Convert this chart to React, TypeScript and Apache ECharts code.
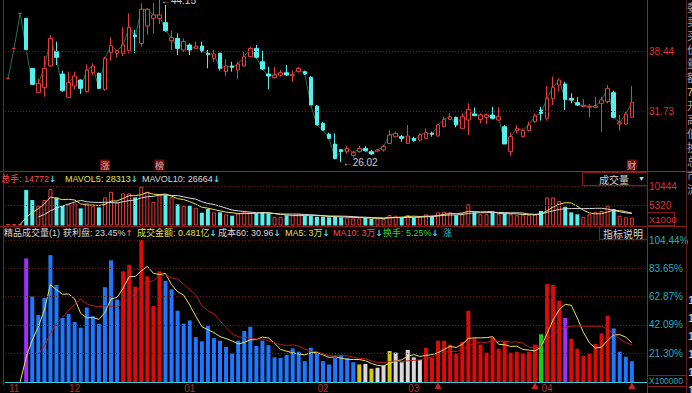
import React, { useEffect, useRef } from "react";
import * as echarts from "echarts";

// ---------------- data ----------------
const opens = [35.39,38.74,42.66,42.10,36.51,33.79,34.38,36.77,38.37,35.87,
 33.27,34.53,35.20,33.90,36.02,35.95,34.16,38.30,38.19,38.19,
 38.48,40.24,39.30,41.24,42.10,42.10,41.62,39.60,39.86,38.56,
 39.12,38.74,39.01,38.19,37.63,38.19,36.14,36.77,36.32,36.77,
 37.81,38.74,37.25,35.87,35.46,35.76,36.02,35.69,36.14,36.14,
 35.50,32.30,30.36,29.16,28.05,27.41,27.19,26.78,27.19,27.56,
 27.19,27.26,27.38,28.12,28.87,28.87,28.12,28.68,28.49,28.68,
 29.24,28.94,29.98,30.80,31.03,29.80,30.73,31.40,30.80,31.03,
 31.29,30.73,29.98,27.19,29.54,28.87,29.54,30.54,31.85,30.92,
 33.15,34.64,34.76,33.15,32.67,32.22,32.15,32.15,32.59,32.78,
 33.79,30.28,30.28,31.03];
const closes = [35.39,38.74,42.66,38.63,34.72,34.83,36.51,39.86,37.74,34.01,
 34.91,35.65,34.27,36.32,36.77,34.27,37.63,39.04,38.48,39.12,
 41.09,40.05,43.11,43.11,42.47,42.47,40.72,39.94,38.74,39.49,
 38.56,39.01,38.48,38.07,38.11,36.51,36.77,36.62,36.99,37.81,
 38.74,37.74,36.43,35.65,35.76,36.02,35.76,35.80,36.51,35.87,
 32.41,30.17,29.61,28.68,26.44,27.19,27.56,27.08,27.56,27.30,
 26.93,27.38,27.75,29.05,29.24,28.68,28.94,28.42,29.05,29.31,
 29.13,30.17,30.80,31.10,30.17,31.10,31.92,31.21,31.29,31.29,
 30.92,31.10,28.05,28.87,29.80,29.54,30.17,31.18,31.48,33.15,
 34.38,35.20,33.04,32.97,32.41,32.37,32.26,32.30,32.97,34.27,
 31.03,30.43,31.40,32.67];
const lows = [35.39,38.74,42.66,38.63,34.64,33.79,33.34,36.69,36.88,33.90,
 33.27,34.16,33.64,33.79,35.76,34.16,34.01,37.37,37.74,37.89,
 38.19,38.19,38.93,40.24,40.42,41.47,40.61,38.56,38.00,38.37,
 38.00,38.63,38.26,36.51,37.25,36.25,35.65,36.14,35.28,36.69,
 37.74,37.63,36.32,34.16,35.39,35.58,35.65,35.02,36.02,35.76,
 32.41,30.17,29.54,28.57,26.33,26.02,26.93,26.56,27.08,27.19,
 26.82,27.19,27.19,28.05,28.79,28.31,28.05,28.31,28.31,28.57,
 28.87,28.87,29.91,30.73,29.91,29.80,29.05,31.18,30.36,30.28,
 30.80,30.66,28.05,26.70,29.24,28.79,29.43,30.43,30.66,30.66,
 32.41,33.90,31.85,32.59,32.30,32.15,31.03,32.04,29.43,32.59,
 30.92,29.54,30.17,31.03];
const highs = [35.39,38.74,42.66,42.10,36.51,35.32,37.89,40.24,39.49,36.25,
 36.14,36.14,35.28,36.96,37.07,36.02,37.81,39.98,38.56,41.09,
 42.66,40.80,43.78,43.22,43.78,44.15,43.59,40.72,40.42,39.86,
 39.30,39.49,39.49,38.56,38.56,38.26,37.51,37.25,37.25,38.37,
 38.93,39.12,38.48,36.69,36.69,36.32,36.88,36.25,36.69,36.25,
 35.65,32.41,30.54,29.31,29.24,27.45,27.82,27.30,27.86,27.82,
 27.38,27.49,27.93,29.61,29.43,29.05,30.17,28.87,29.24,29.80,
 29.43,30.28,31.10,31.48,31.10,31.48,32.59,32.15,31.48,31.48,
 32.22,32.15,30.17,29.31,30.17,29.80,30.54,31.48,32.22,34.53,
 35.58,35.39,35.02,33.71,33.27,33.04,32.52,33.34,33.34,34.64,
 34.01,31.29,31.66,34.53];
const volumes = [400,400,400,9370,6730,5230,6730,9640,7440,5230,
 5600,5860,4540,5860,5230,4800,7440,8930,6120,8500,
 8500,7440,10240,8930,6280,8050,8050,7440,5600,5230,
 5230,4700,3380,4360,3480,3480,2960,2590,3220,3610,
 3480,3220,3480,3220,2320,2320,2720,2720,2960,2590,
 2590,2320,2320,2160,2320,2160,2160,1900,1900,2060,
 1720,1900,1720,2770,2590,2060,2770,2160,2320,2960,
 2320,3480,3610,3480,2720,3220,5600,3480,2960,2960,
 3480,2960,3220,2960,2720,2720,2720,2960,3830,7440,
 7440,6470,4960,3480,2960,2320,2960,3610,3830,5230,
 4360,2590,2160,2060];
// 精品成交量 indicator values (%)
const jpValues = [0,0,0,90.9,63.0,49.3,61.9,93.3,71.3,47.0,
 50.0,44.1,39.9,54.8,48.4,42.9,69.7,89.5,60.7,81.4,
 86.2,70.1,110,77.7,55.9,81.4,74.4,68.2,52.4,42.9,
 45.3,33.0,29.9,41.3,32.3,30.4,25.9,20.9,30.4,37.5,
 40.6,26.4,30.4,27.1,18.1,17.6,20.0,24.7,22.3,15.3,
 25.2,21.6,15.3,12.9,17.6,20.0,17.6,14.5,12.9,13.3,
 9.8,10.5,12.2,22.8,21.6,14.5,23.6,18.1,16.2,25.2,
 17.6,30.4,30.4,27.5,20.9,29.4,52.4,32.3,27.5,21.6,
 32.8,24.5,30.4,21.6,22.3,20.9,22.3,27.5,35.1,72.0,
 71.3,59.9,47.2,31.8,24.5,19.3,20.9,28.0,35.8,48.8,
 39.4,22.3,18.6,15.3];
// bar type per day: N none, P purple, B blue, R red, Y yellow, W white, G green
const jpTypes =
  "NNNPBBBBBBBBBBBBBBBRRRRRRRBBBBBBBBBBBBBBBBBBBBBBBBBBBBBBBBYWYWWYWWWWWRRRRRRRRRRRRRRRRRRRGRRRPRRRRRRRBBBB";
const priceTicks = ["38.44", "31.73"];
const volTicks = ["10444", "5320"];
const pctTicks = ["104.44", "83.65", "62.87", "42.09", "21.30"];
const monthLabels = ["11", "12", "01", "02", "03", "04"];
const monthStartIdx = [1, 11, 30, 52, 67, 89];
const events = [{ i: 16, t: "涨" }, { i: 25, t: "榜" }, { i: 103, t: "财" }];
const eventPriceLevel = 25.7;
const buySignalIdx = [71, 87, 103];
const highMark = { i: 25, v: 44.15 };
const lowMark = { i: 55, v: 26.02 };
const priceRange = [25.03, 44.15];
const volMax = 10444;
const pctMax = 104.44;
const sideChars = ["委", "卖", "买", "价", "量", "额", "7", "开", "高", "低", "换", "总", "市", "流"];

// ---------------- helpers ----------------
const FONT = '"Liberation Sans", "Noto Sans CJK SC", sans-serif';
const ARROW_FONT = '"DejaVu Sans", sans-serif';
const RED = "#e83c3c";
const CYAN = "#54f0f0";
const EXTRA_SLOTS = 2;
const cats = Array.from({ length: opens.length + EXTRA_SLOTS }, (_, i) => String(i));

function movingAvg(arr: number[], n: number, start: number) {
  return arr.map((_, i) => {
    if (i < start) return "-";
    let s = 0;
    for (let k = i - n + 1; k <= i; k++) s += k >= 0 ? arr[k] : 0;
    return +(s / n).toFixed(2);
  });
}

const TXT: Record<string, string> = {
  r: "#ff4a4a", c: "#3fe0f0", y: "#e0e050", w: "#d8d8d8", g: "#36d636", t: "#30b8c8",
};
function richText(x: number, y: number, parts: [string, string][], size = 9) {
  const rich: any = {};
  Object.keys(TXT).forEach((k) => {
    rich[k] = { fill: TXT[k], fontSize: size, fontFamily: FONT };
    rich["a" + k] = { fill: TXT[k], fontSize: 8.5, fontWeight: "bold", fontFamily: ARROW_FONT };
  });
  return {
    type: "text", x, y, z: 100,
    style: {
      text: parts.map(([s, k]) => `{${k}|${s}}`).join(""),
      rich, fontSize: size, fontFamily: FONT, verticalAlign: "middle", fill: "#ddd",
    },
  };
}

const header1: { x: number; parts: [string, string][] }[] = [
  { x: 1, parts: [["总手: 14772", "r"], ["↓", "ac"]] },
  { x: 65, parts: [["MAVOL5: 28313", "y"], ["↓", "ac"]] },
  { x: 142, parts: [["MAVOL10: 26664", "w"], ["↓", "ac"]] },
];
const header2: { x: number; parts: [string, string][] }[] = [
  { x: 4, parts: [["精品成交量(1)", "w"]] },
  { x: 63, parts: [["获利盘: 23.45%", "w"], ["↑", "ar"]] },
  { x: 137, parts: [["成交金额: 0.481亿", "y"], ["↓", "ac"]] },
  { x: 218, parts: [["成本60: 30.96", "w"], ["↓", "ac"]] },
  { x: 285, parts: [["MA5: 3万", "y"], ["↓", "ac"]] },
  { x: 333, parts: [["MA10: 3万", "r"], ["↓", "ac"]] },
  { x: 383, parts: [["换手: 5.25%", "g"], ["↓", "ac"]] },
  { x: 443, parts: [["涨", "t"]] },
];

function gridMarkLine(ticks: string[], color: string, suffix = "") {
  return {
    silent: true, symbol: ["none", "none"], animation: false,
    lineStyle: { color: "#6e1818", type: [1, 2], width: 1 },
    label: { show: true, position: "end", distance: 2, color, fontSize: 10, fontFamily: FONT, formatter: (p: any) => p.name + suffix },
    data: ticks.map((t) => ({ yAxis: parseFloat(t), name: t })),
  };
}

export default function App() {
  const ref = useRef<HTMLDivElement>(null);
  useEffect(() => {
    if (!ref.current) return;
    const chart = echarts.init(ref.current, undefined, { renderer: "svg" });
    const candleData = opens.map((o, i) => [o, closes[i], lows[i], highs[i]]);
    const volData = volumes.map((v, i) => {
      const up = closes[i] >= opens[i];
      return {
        value: v,
        itemStyle: up ? { color: "#000", borderColor: RED, borderWidth: 1 } : { color: CYAN, borderColor: CYAN, borderWidth: 0 },
      };
    });
    const typeColor: Record<string, string> = {
      P: "#a030ff", B: "#1e78ff", R: "#dd0a0a", Y: "#d4c800", W: "#d8d8d8", G: "#10d010", N: "transparent",
    };
    const jpData = jpValues.map((v, i) => ({ value: v, itemStyle: { color: typeColor[jpTypes[i]] } }));
    const monthMap: Record<number, string> = {};
    monthStartIdx.forEach((idx, k) => (monthMap[idx] = monthLabels[k]));

    const gridBase = { left: 5, right: 45 };
    const xBase = (gi: number) => ({
      type: "category", gridIndex: gi, data: cats, boundaryGap: true,
      axisLine: { show: false }, axisTick: { show: false }, axisLabel: { show: false }, splitLine: { show: false },
    });

    const side: any[] = [];
    sideChars.forEach((ch, k) => {
      side.push({
        type: "text", x: 687, y: 8 + k * 14, z: 100,
        style: { text: ch, fill: k === 6 ? "#e0d040" : "#a0a0a0", fontSize: 11, fontFamily: FONT, verticalAlign: "middle" },
      });
    });
    for (let k = 0; k < 6; k++) {
      side.push({
        type: "text", x: 688, y: 300 + k * 18, z: 100,
        style: { text: "1", fill: "#e0e0e0", fontSize: 11, fontFamily: FONT, verticalAlign: "middle" },
      });
    }

    const option: any = {
      animation: false,
      backgroundColor: "#000",
      textStyle: { fontFamily: FONT },
      grid: [
        { ...gridBase, top: 0, height: 171 },
        { ...gridBase, top: 186, height: 39.5 },
        { ...gridBase, top: 240, height: 145.5 },
      ],
      xAxis: [
        xBase(0),
        xBase(1),
        {
          ...xBase(2),
          axisLine: { show: true, lineStyle: { color: "#3ec8d8", width: 1 } },
          axisLabel: {
            show: true, interval: 0, color: "#b83030", fontSize: 10, margin: 1, fontFamily: FONT,
            formatter: (_v: string, i: number) => monthMap[i] || "",
          },
        },
      ],
      yAxis: [
        { type: "value", gridIndex: 0, min: priceRange[0], max: priceRange[1], show: false, splitLine: { show: false } },
        { type: "value", gridIndex: 1, min: 0, max: volMax, show: false, splitLine: { show: false } },
        { type: "value", gridIndex: 2, min: 0, max: pctMax, show: false, splitLine: { show: false } },
      ],
      series: [
        {
          type: "line", xAxisIndex: 0, yAxisIndex: 0, data: closes, symbol: "none", z: 1,
          lineStyle: { color: "#2d7040", width: 1 },
          markLine: gridMarkLine(priceTicks, "#dc3232"),
        },
        {
          type: "candlestick", xAxisIndex: 0, yAxisIndex: 0, data: candleData, barWidth: 4, z: 3,
          itemStyle: { color: "#000", color0: CYAN, borderColor: RED, borderColor0: CYAN, borderColorDoji: RED, borderWidth: 1 },
          markPoint: {
            symbol: "circle", symbolSize: 1, itemStyle: { color: "transparent" }, animation: false,
            label: { show: true, position: "right", distance: 1, color: "#cfcfcf", fontSize: 10, fontFamily: FONT },
            data: [
              { coord: [highMark.i, highMark.v], label: { formatter: "←" + highMark.v.toFixed(2) } },
              { coord: [lowMark.i, lowMark.v], label: { formatter: "←" + lowMark.v.toFixed(2) } },
            ],
          },
        },
        {
          type: "scatter", xAxisIndex: 0, yAxisIndex: 0, z: 5, symbol: "rect", symbolSize: [10, 11],
          itemStyle: { color: "#8a1212" },
          label: { show: true, position: "inside", color: "#f2d8d8", fontSize: 9, fontFamily: '"Noto Sans CJK SC", sans-serif', formatter: (p: any) => p.data.t },
          data: events.map((e) => ({ value: [e.i, eventPriceLevel], t: e.t })),
        },
        {
          type: "bar", xAxisIndex: 1, yAxisIndex: 1, data: volData, barWidth: 4, z: 2,
          markLine: gridMarkLine(volTicks, "#dc3232"),
        },
        {
          type: "line", xAxisIndex: 1, yAxisIndex: 1, data: movingAvg(volumes, 5, 2), symbol: "none", z: 4,
          lineStyle: { color: "#e6e060", width: 1 },
        },
        {
          type: "line", xAxisIndex: 1, yAxisIndex: 1, data: movingAvg(volumes, 10, 5), symbol: "none", z: 4,
          lineStyle: { color: "#d8d8d8", width: 1 },
        },
        {
          type: "bar", xAxisIndex: 2, yAxisIndex: 2, data: jpData, barWidth: 4, z: 2,
          markLine: gridMarkLine(pctTicks, "#2aaabe", "%"),
        },
        {
          type: "line", xAxisIndex: 2, yAxisIndex: 2, data: movingAvg(jpValues, 5, 2), symbol: "none", z: 4,
          lineStyle: { color: "#e6e060", width: 1 },
        },
        {
          type: "line", xAxisIndex: 2, yAxisIndex: 2, data: movingAvg(jpValues, 10, 5), symbol: "none", z: 4,
          lineStyle: { color: "#b81c1c", width: 1 },
        },
        {
          type: "scatter", xAxisIndex: 2, yAxisIndex: 2, clip: false, z: 6, symbol: "triangle", symbolSize: [7, 7],
          itemStyle: { color: "#ff2a2a" },
          data: buySignalIdx.map((i) => [i, -2.5]),
        },
      ],
      graphic: [
        { type: "line", z: 90, shape: { x1: 3.5, y1: 0, x2: 3.5, y2: 385 }, style: { stroke: "#8a1a1a", lineWidth: 1 } },
        { type: "line", z: 90, shape: { x1: 647.5, y1: 0, x2: 647.5, y2: 393 }, style: { stroke: "#a81c1c", lineWidth: 1 } },
        { type: "line", z: 90, shape: { x1: 686.5, y1: 0, x2: 686.5, y2: 393 }, style: { stroke: "#5a1a1a", lineWidth: 1 } },
        { type: "line", z: 90, shape: { x1: 0, y1: 171.5, x2: 692, y2: 171.5 }, style: { stroke: "#a81c1c", lineWidth: 1 } },
        { type: "line", z: 90, shape: { x1: 0, y1: 226.5, x2: 686, y2: 226.5 }, style: { stroke: "#8a1a1a", lineWidth: 1 } },
        { type: "rect", z: 95, shape: { x: 582.5, y: 172.5, width: 65, height: 13 }, style: { fill: "#000", stroke: "#8a1a1a", lineWidth: 1 } },
        { type: "text", z: 100, x: 599, y: 179, style: { text: "成交量", fill: "#d0d0d0", fontSize: 10, fontFamily: '"Noto Sans CJK SC", sans-serif', verticalAlign: "middle" } },
        { type: "text", z: 100, x: 638, y: 178.5, style: { text: "▼", fill: "#d0d0d0", fontSize: 7, fontFamily: FONT, verticalAlign: "middle" } },
        { type: "rect", z: 95, shape: { x: 599.5, y: 226.5, width: 48, height: 13 }, style: { fill: "#000", stroke: "#8a1a1a", lineWidth: 1 } },
        { type: "text", z: 100, x: 603, y: 233, style: { text: "指标说明", fill: "#d8d8d8", fontSize: 10, fontFamily: '"Noto Sans CJK SC", sans-serif', verticalAlign: "middle" } },
        { type: "rect", z: 95, shape: { x: 647.5, y: 212.5, width: 27, height: 13 }, style: { fill: "#000", stroke: "#8a1a1a", lineWidth: 1 } },
        { type: "text", z: 100, x: 649, y: 219, style: { text: "X1000", fill: "#dc3232", fontSize: 9.5, fontFamily: FONT, verticalAlign: "middle" } },
        { type: "rect", z: 95, shape: { x: 647.5, y: 375.5, width: 39, height: 11 }, style: { fill: "#000", stroke: "#8a1a1a", lineWidth: 1 } },
        { type: "text", z: 100, x: 649, y: 381, style: { text: "X100000", fill: "#2aaabe", fontSize: 8.5, fontFamily: FONT, verticalAlign: "middle" } },
        ...header1.map((h) => richText(h.x, 179, h.parts)),
        ...header2.map((h) => richText(h.x, 233, h.parts)),
        ...side,
      ],
    };
    chart.setOption(option);
    return () => chart.dispose();
  }, []);
  return (
    <div
      ref={ref}
      style={{ position: "fixed", left: 0, top: 0, width: 692, height: 393, background: "#000" }}
    />
  );
}
